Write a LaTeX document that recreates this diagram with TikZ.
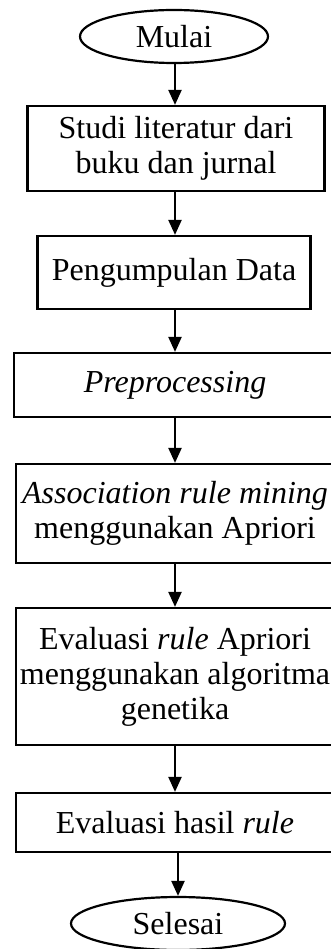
\documentclass[tikz,border=0pt]{standalone}
\usepackage{fontspec}
\setmainfont{Liberation Serif}
\usetikzlibrary{shapes.geometric,arrows.meta}
\begin{document}
\begin{tikzpicture}[x=1pt,y=1pt,
  every node/.style={font=\fontsize{32}{35}\selectfont, inner sep=0pt, line width=2.2pt, draw=black, align=center},
  procbox/.style={rectangle},
  termnode/.style={ellipse},
  arr/.style={line width=2.2pt, -{Triangle[width=13pt,length=15pt]}}]
\useasboundingbox (0,0) rectangle (331,-949);
\clip (0,0) rectangle (331,-949);
\node[termnode, minimum width=188pt, minimum height=53pt] (m) at (174,-36.5) {Mulai};
\node[procbox, minimum width=297pt, minimum height=85pt] (b1) at (176,-148.5) {Studi literatur dari\\buku dan jurnal};
\node[procbox, minimum width=273pt, minimum height=73pt] (b2) at (174,-272.5) {Pengumpulan Data};
\node[procbox, minimum width=322pt, minimum height=64pt] (b3) at (175,-385) {\itshape Preprocessing};
\node[procbox, minimum width=318pt, minimum height=99pt] (b4) at (175,-513.5) {\textit{Association rule mining}\\menggunakan Apriori};
\node[procbox, minimum width=318pt, minimum height=137pt] (b5) at (175,-676.5) {Evaluasi \textit{rule} Apriori\\menggunakan algoritma\\genetika};
\node[procbox, minimum width=318pt, minimum height=59pt] (b6) at (175,-822.5) {Evaluasi hasil \textit{rule}};
\node[termnode, minimum width=214pt, minimum height=53pt] (s) at (178,-923.5) {Selesai};
\draw[arr] (m.south -| 175,0) -- (b1.north -| 175,0);
\draw[arr] (b1.south -| 175,0) -- (b2.north -| 175,0);
\draw[arr] (b2.south -| 175,0) -- (b3.north -| 175,0);
\draw[arr] (b3) -- (b4);
\draw[arr] (b4) -- (b5);
\draw[arr] (b5) -- (b6);
\draw[arr] (b6.south -| s.north) -- (s.north);
\end{tikzpicture}
\end{document}
